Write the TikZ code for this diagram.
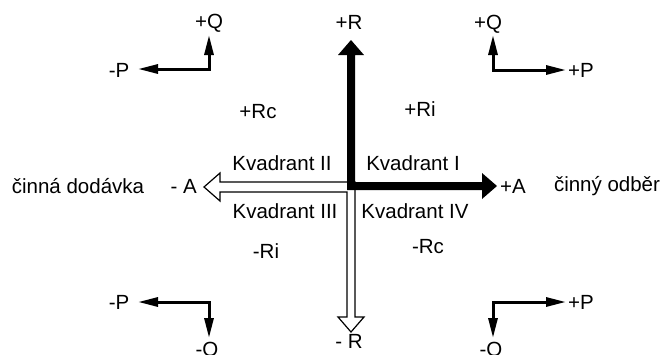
\documentclass[tikz,border=0pt]{standalone}
\usepackage{fontspec}
\setmainfont{Liberation Sans}
\usetikzlibrary{arrows.meta}
\begin{document}
\begin{tikzpicture}[x=1pt,y=-1pt,
  font=\fontsize{20.5}{24}\selectfont,
  lbl/.style={inner sep=0pt, anchor=center},
  smallarr/.style={line width=3pt, line join=miter,
    {Triangle[length=20pt,width=9pt]}-{Triangle[length=20pt,width=9pt]}},
  hollow/.style={draw=black, fill=white, line width=1.2pt, line join=miter},
  solid/.style={fill=black, draw=none},
]
\useasboundingbox (0,0) rectangle (665,354);
\clip (0,0) rectangle (665,354);

% hollow arrows (- A and - R)
\path[hollow] (355,182) -- (220,182) -- (220,173) -- (204,187) -- (220,201)
  -- (220,192) -- (347,192) -- (347,317) -- (338,317) -- (351,332)
  -- (364,317) -- (355,317) -- cycle;

% solid arrows (+R and +A)
\path[solid] (347,190) -- (347,55) -- (338,55) -- (351,40) -- (364,55)
  -- (355,55) -- (355,182) -- (482,182) -- (482,173) -- (497,186)
  -- (482,199) -- (482,190) -- cycle;

% axis labels
\node[lbl] (pr) at (349,22) {+R};
\node[lbl] (mr) at (349,341) {- R};
\node[lbl, anchor=east] (ma) at (197,186) {- A};
\node[lbl, anchor=west] (pa) at (500,186) {+A};
\node[lbl] (dod) at (78,186) {činná dodávka};
\node[lbl] (odb) at (607,186) {činný odběr};

% quadrant labels
\node[lbl] (k2) at (282,163) {Kvadrant II};
\node[lbl] (k1) at (413,163) {Kvadrant I};
\node[lbl] (k3) at (285,211) {Kvadrant III};
\node[lbl] (k4) at (415,211) {Kvadrant IV};

\node[lbl] (prc) at (258,112) {+Rc};
\node[lbl] (pri) at (420,109) {+Ri};
\node[lbl] (mri) at (266,251) {-Ri};
\node[lbl] (mrc) at (428,247) {-Rc};

% small corner diagrams
% top-left
\coordinate (tlc) at (209,69);
\coordinate (tlq) at (209,35);
\coordinate (tlp) at (138,69);
\draw[smallarr] (tlp) -- (tlc) -- (tlq);
\node[lbl] (tlQ) at (209,23) {+Q};
\node[lbl] (tlP) at (119,70) {-P};

% top-right
\coordinate (trc) at (493,70);
\coordinate (trq) at (493,35);
\coordinate (trp) at (566,70);
\draw[smallarr] (trq) -- (trc) -- (trp);
\node[lbl] (trQ) at (488,24) {+Q};
\node[lbl] (trP) at (581,70) {+P};

% bottom-left
\coordinate (blc) at (209,302);
\coordinate (blq) at (209,338);
\coordinate (blp) at (138,302);
\draw[smallarr] (blp) -- (blc) -- (blq);
\node[lbl] (blP) at (119,302) {-P};
\node[lbl, anchor=north] (blQ) at (207,342) {-Q};

% bottom-right
\coordinate (brc) at (493,302);
\coordinate (brq) at (493,338);
\coordinate (brp) at (566,302);
\draw[smallarr] (brq) -- (brc) -- (brp);
\node[lbl] (brP) at (581,302) {+P};
\node[lbl, anchor=north] (brQ) at (491,342) {-Q};
\end{tikzpicture}
\end{document}
